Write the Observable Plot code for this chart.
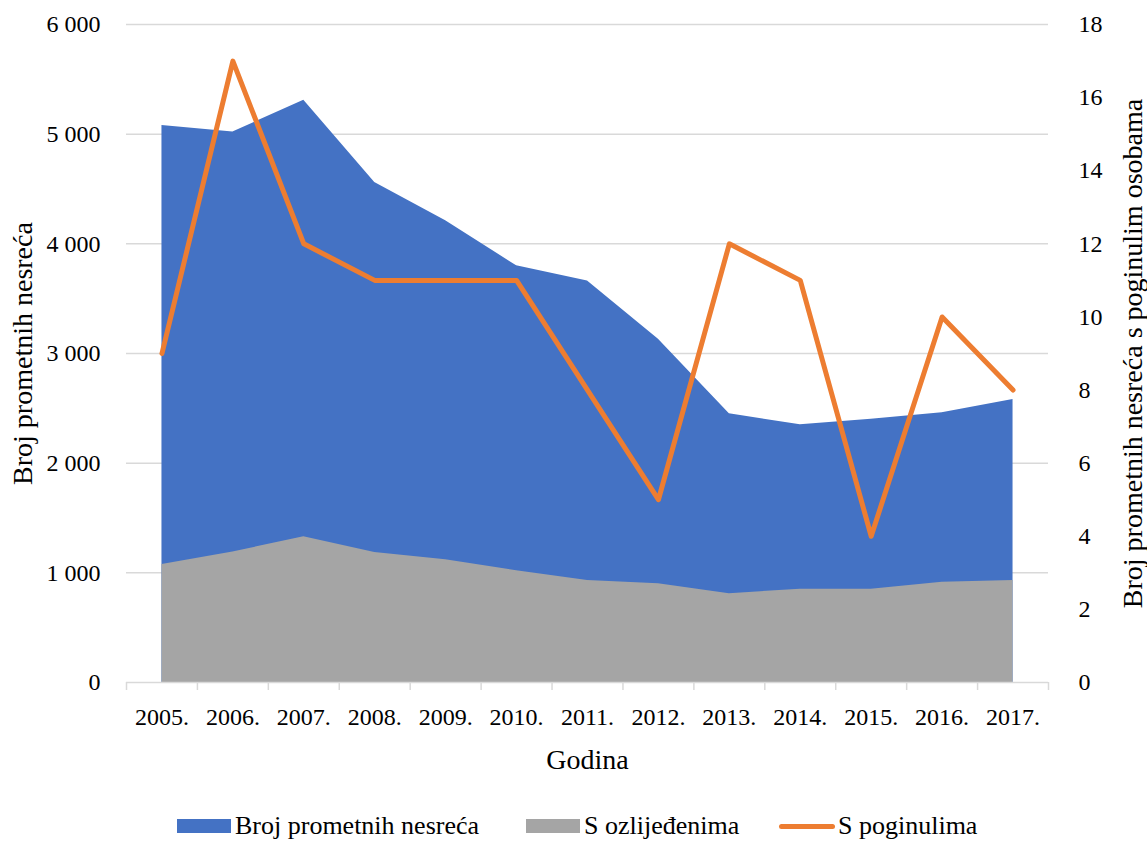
<!DOCTYPE html>
<html>
<head>
<meta charset="utf-8">
<script src="https://cdn.jsdelivr.net/npm/d3@7"></script>
<script src="https://cdn.jsdelivr.net/npm/@observablehq/plot@0.6"></script>
<style>
  html, body { margin: 0; padding: 0; background: #fff; }
  #chart { position: relative; width: 1147px; height: 846px; font-family: "Liberation Serif", serif; }
  #legend { position: relative; width: 1147px; height: 40px; font-family: "Liberation Serif", serif; font-size: 26px; color: #000; }
  .item { position: absolute; top: 0; height: 40px; display: flex; align-items: center; }
  .sw { display: inline-block; width: 54px; height: 14px; margin-right: 4px; }
  .ln { display: inline-block; width: 56px; height: 5px; border-radius: 3px; margin-right: 3px; }
</style>
</head>
<body>
<div id="chart"></div>
<script>
// ---- data ----
const years = ["2005.", "2006.", "2007.", "2008.", "2009.", "2010.", "2011.", "2012.", "2013.", "2014.", "2015.", "2016.", "2017."];
const ukupno = [5080, 5020, 5310, 4560, 4210, 3800, 3660, 3130, 2450, 2350, 2400, 2460, 2580];
const ozlijedeni = [1075, 1190, 1330, 1185, 1120, 1020, 930, 900, 810, 850, 850, 915, 930];
const poginuli = [9, 17, 12, 11, 11, 11, 8, 5, 12, 11, 4, 10, 8];
const leftTicks = [0, 1000, 2000, 3000, 4000, 5000, 6000];
const rightTicks = [0, 2, 4, 6, 8, 10, 12, 14, 16, 18];
const seriesNames = ["Broj prometnih nesreća", "S ozlijeđenima", "S poginulima"];
const colors = ["#4472C4", "#A5A5A5", "#ED7D31"];
const leftTitle = "Broj prometnih nesreća";
const rightTitle = "Broj prometnih nesreća s poginulim osobama";
const xTitle = "Godina";

const leftMax = 6000, rightMax = 18;
const k = leftMax / rightMax;

const data = years.map((y, i) => ({i, year: y, total: ukupno[i], inj: ozlijedeni[i], dead: poginuli[i]}));
const fmt = d3.formatLocale({thousands: " ", grouping: [3], decimal: ","}).format(",");

const W = 1147, H = 806;
const plot = Plot.plot({
  width: W,
  height: H,
  marginLeft: 126,
  marginRight: 99,
  marginTop: 24,
  marginBottom: H - 682,
  x: {type: "linear", domain: [-0.5, years.length - 0.5]},
  y: {domain: [0, leftMax]},
  style: {fontFamily: "Liberation Serif, serif", fontSize: "24px", color: "#000", background: "#fff", overflow: "visible"},
  marks: [
    Plot.gridY(leftTicks.slice(1), {stroke: "#d9d9d9", strokeOpacity: 1, strokeWidth: 1.5}),
    Plot.areaY(data, {x: "i", y: "total", fill: colors[0]}),
    Plot.areaY(data, {x: "i", y: "inj", fill: colors[1]}),
    Plot.ruleY([0], {stroke: "#d9d9d9", strokeWidth: 1.5}),
    Plot.axisX(d3.range(-0.5, years.length, 1), {tickSize: 8, tickFormat: () => "", stroke: "#d9d9d9", strokeWidth: 1.5, strokeOpacity: 1, label: null}),
    Plot.text(data, {x: "i", text: "year", frameAnchor: "bottom", lineAnchor: "middle", textAnchor: "middle", dy: 35, fontSize: 24, fill: "#000"}),
    Plot.axisY(leftTicks, {anchor: "left", tickSize: 0, tickPadding: 26, tickFormat: fmt, fontSize: 24, label: null}),
    Plot.axisY(rightTicks.map(v => v * k), {anchor: "right", tickSize: 0, tickPadding: 30, tickFormat: d => String(Math.round(d / k)), fontSize: 24, label: null}),
    Plot.lineY(data, {x: "i", y: d => d.dead * k, stroke: colors[2], strokeWidth: 5, strokeLinejoin: "round", strokeLinecap: "round"}),
    Plot.text([xTitle], {frameAnchor: "bottom", lineAnchor: "middle", dy: 78, fontSize: 28, fill: "#000"}),
    Plot.text([leftTitle], {frameAnchor: "left", textAnchor: "middle", lineAnchor: "middle", rotate: -90, dx: -103, fontSize: 28, fill: "#000"}),
    Plot.text([rightTitle], {frameAnchor: "right", textAnchor: "middle", lineAnchor: "middle", rotate: -90, dx: 85, fontSize: 28, fill: "#000"})
  ]
});
const chart = document.getElementById("chart");
chart.appendChild(plot);

// legend (HTML, below the SVG)
const legend = document.createElement("div");
legend.id = "legend";
const lefts = [177, 526, 779];
seriesNames.forEach((name, j) => {
  const item = document.createElement("div");
  item.className = "item";
  item.style.left = lefts[j] + "px";
  const sw = document.createElement("span");
  sw.className = j === 2 ? "ln" : "sw";
  sw.style.background = colors[j];
  const t = document.createElement("span");
  t.textContent = name;
  item.appendChild(sw);
  item.appendChild(t);
  legend.appendChild(item);
});
chart.appendChild(legend);
</script>
</body>
</html>
